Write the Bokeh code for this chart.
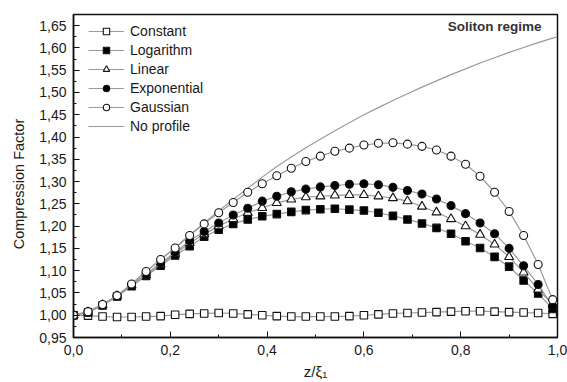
from bokeh.plotting import figure
from bokeh.models import (Range1d, SingleIntervalTicker, CustomJSTickFormatter,
                          Legend, LegendItem, Label)
from bokeh.embed import file_html
from bokeh.resources import INLINE

# ---- data ----
z = [0.00, 0.03, 0.06, 0.09, 0.12, 0.15, 0.18, 0.21, 0.24, 0.27, 0.30, 0.33,
     0.36, 0.39, 0.42, 0.45, 0.48, 0.51, 0.54, 0.57, 0.60, 0.63, 0.66, 0.69,
     0.72, 0.75, 0.78, 0.81, 0.84, 0.87, 0.90, 0.93, 0.96, 0.99]

constant = [1.000, 0.999, 0.997, 0.996, 0.996, 0.997, 0.998, 1.001, 1.003, 1.004,
            1.005, 1.004, 1.002, 1.000, 0.998, 0.997, 0.997, 0.997, 0.997, 0.998,
            1.000, 1.002, 1.004, 1.005, 1.006, 1.007, 1.008, 1.009, 1.009, 1.008,
            1.007, 1.006, 1.005, 1.003]

logarithm = [1.000, 1.006, 1.022, 1.042, 1.065, 1.088, 1.111, 1.134, 1.155, 1.176,
             1.192, 1.205, 1.215, 1.222, 1.227, 1.232, 1.236, 1.238, 1.239, 1.237,
             1.235, 1.230, 1.223, 1.215, 1.206, 1.196, 1.183, 1.166, 1.151, 1.131,
             1.109, 1.078, 1.049, 1.014]

linear = [1.000, 1.007, 1.023, 1.043, 1.067, 1.090, 1.114, 1.138, 1.162, 1.182,
          1.200, 1.216, 1.230, 1.241, 1.252, 1.260, 1.265, 1.267, 1.269, 1.270,
          1.270, 1.267, 1.263, 1.256, 1.244, 1.231, 1.216, 1.200, 1.181, 1.159,
          1.131, 1.096, 1.058, 1.024]

exponential = [1.000, 1.007, 1.023, 1.043, 1.068, 1.092, 1.117, 1.141, 1.167, 1.188,
               1.207, 1.225, 1.240, 1.256, 1.267, 1.277, 1.283, 1.288, 1.291, 1.294,
               1.295, 1.293, 1.287, 1.280, 1.272, 1.261, 1.246, 1.228, 1.207, 1.183,
               1.150, 1.111, 1.069, 1.020]

gaussian = [1.000, 1.008, 1.024, 1.044, 1.070, 1.098, 1.125, 1.151, 1.179, 1.205,
            1.230, 1.253, 1.276, 1.295, 1.313, 1.330, 1.345, 1.357, 1.368, 1.375,
            1.382, 1.386, 1.387, 1.384, 1.379, 1.371, 1.357, 1.339, 1.312, 1.276,
            1.233, 1.179, 1.114, 1.035]

z_noprofile = [0.00, 0.03, 0.06, 0.09, 0.12, 0.15, 0.18, 0.21, 0.24, 0.27, 0.30,
               0.33, 0.36, 0.39, 0.42, 0.45, 0.48, 0.51, 0.54, 0.57, 0.60, 0.63,
               0.66, 0.69, 0.72, 0.75, 0.78, 0.81, 0.84, 0.87, 0.90, 0.93, 0.96,
               0.99, 1.00]
noprofile = [1.000, 1.008, 1.024, 1.044, 1.070, 1.098, 1.125, 1.152, 1.180, 1.207,
             1.234, 1.260, 1.285, 1.310, 1.334, 1.355, 1.376, 1.395, 1.414, 1.432,
             1.450, 1.466, 1.482, 1.497, 1.512, 1.526, 1.540, 1.553, 1.566, 1.578,
             1.590, 1.601, 1.612, 1.622, 1.625]

series_names = ["Constant", "Logarithm", "Linear", "Exponential", "Gaussian", "No profile"]

FONT = "Liberation Sans"
LINE_COL = "#9a9a9a"
MARK_COL = "#111111"
TEXT_COL = "#1a1a1a"

p = figure(width=567, height=382, output_backend="svg", toolbar_location=None,
           x_range=Range1d(0.0, 1.0), y_range=Range1d(0.95, 1.675),
           min_border_left=73, min_border_right=10, min_border_top=14,
           min_border_bottom=44)
p.background_fill_color = "white"
p.border_fill_color = "white"
p.grid.visible = False
p.outline_line_color = "#111111"
p.outline_line_width = 1.5

# axes
p.xaxis.ticker = SingleIntervalTicker(interval=0.2, num_minor_ticks=2)
p.yaxis.ticker = SingleIntervalTicker(interval=0.05, num_minor_ticks=2)
p.xaxis.formatter = CustomJSTickFormatter(code="return tick.toFixed(1).replace('.', ',');")
p.yaxis.formatter = CustomJSTickFormatter(code="return tick.toFixed(2).replace('.', ',');")
for ax in (p.xaxis, p.yaxis):
    ax.major_tick_in = 6
    ax.major_tick_out = 0
    ax.minor_tick_in = 3
    ax.minor_tick_out = 0
    ax.axis_line_color = "#111111"
    ax.axis_line_width = 1.5
    ax.major_tick_line_color = "#111111"
    ax.minor_tick_line_color = "#111111"
    ax.major_label_text_font = FONT
    ax.major_label_text_font_size = "14px"
    ax.major_label_text_color = TEXT_COL
    ax.axis_label_text_font = FONT
    ax.axis_label_text_font_style = "normal"
    ax.axis_label_text_color = TEXT_COL
p.xaxis.axis_label_text_font_size = "15px"
p.yaxis.axis_label_text_font_size = "14.5px"
p.xaxis.axis_label = "z/ξ₁"
p.yaxis.axis_label = "Compression Factor" + "\u00a0" * 4
p.xaxis.major_label_standoff = 7
p.yaxis.major_label_standoff = 7
p.yaxis.axis_label_standoff = 9
p.xaxis.axis_label_standoff = 5

# no profile line
r_np = p.line(z_noprofile, noprofile, line_color=LINE_COL, line_width=1.2)

specs = [
    (constant, "square", "white", 7.5),
    (logarithm, "square", "black", 7.5),
    (linear, "triangle", "white", 9),
    (exponential, "circle", "black", 8),
    (gaussian, "circle", "white", 8),
]
items = []
for (vals, marker, fill, size), name in zip(specs, series_names[:5]):
    rl = p.line(z, vals, line_color=LINE_COL, line_width=1.2)
    rs = p.scatter(z, vals, marker=marker, size=size, fill_color=fill,
                   line_color=MARK_COL, line_width=1.1)
    items.append(LegendItem(label=name, renderers=[rl, rs]))
items.append(LegendItem(label=series_names[5], renderers=[r_np]))

legend = Legend(items=items, location=(15, 203), margin=0, padding=0,
                spacing=3, glyph_width=36, glyph_height=16, label_height=16,
                label_standoff=6, label_text_font=FONT,
                label_text_font_size="14px", label_text_color=TEXT_COL,
                border_line_color=None, background_fill_alpha=0)
p.add_layout(legend, "center")

p.add_layout(Label(x=0.967, y=1.647, text="Soliton regime", text_align="right",
                   text_baseline="middle", text_font=FONT, text_font_size="13.5px",
                   text_font_style="bold", text_color="#333333"))

open("out.html", "w").write(file_html(p, INLINE))
